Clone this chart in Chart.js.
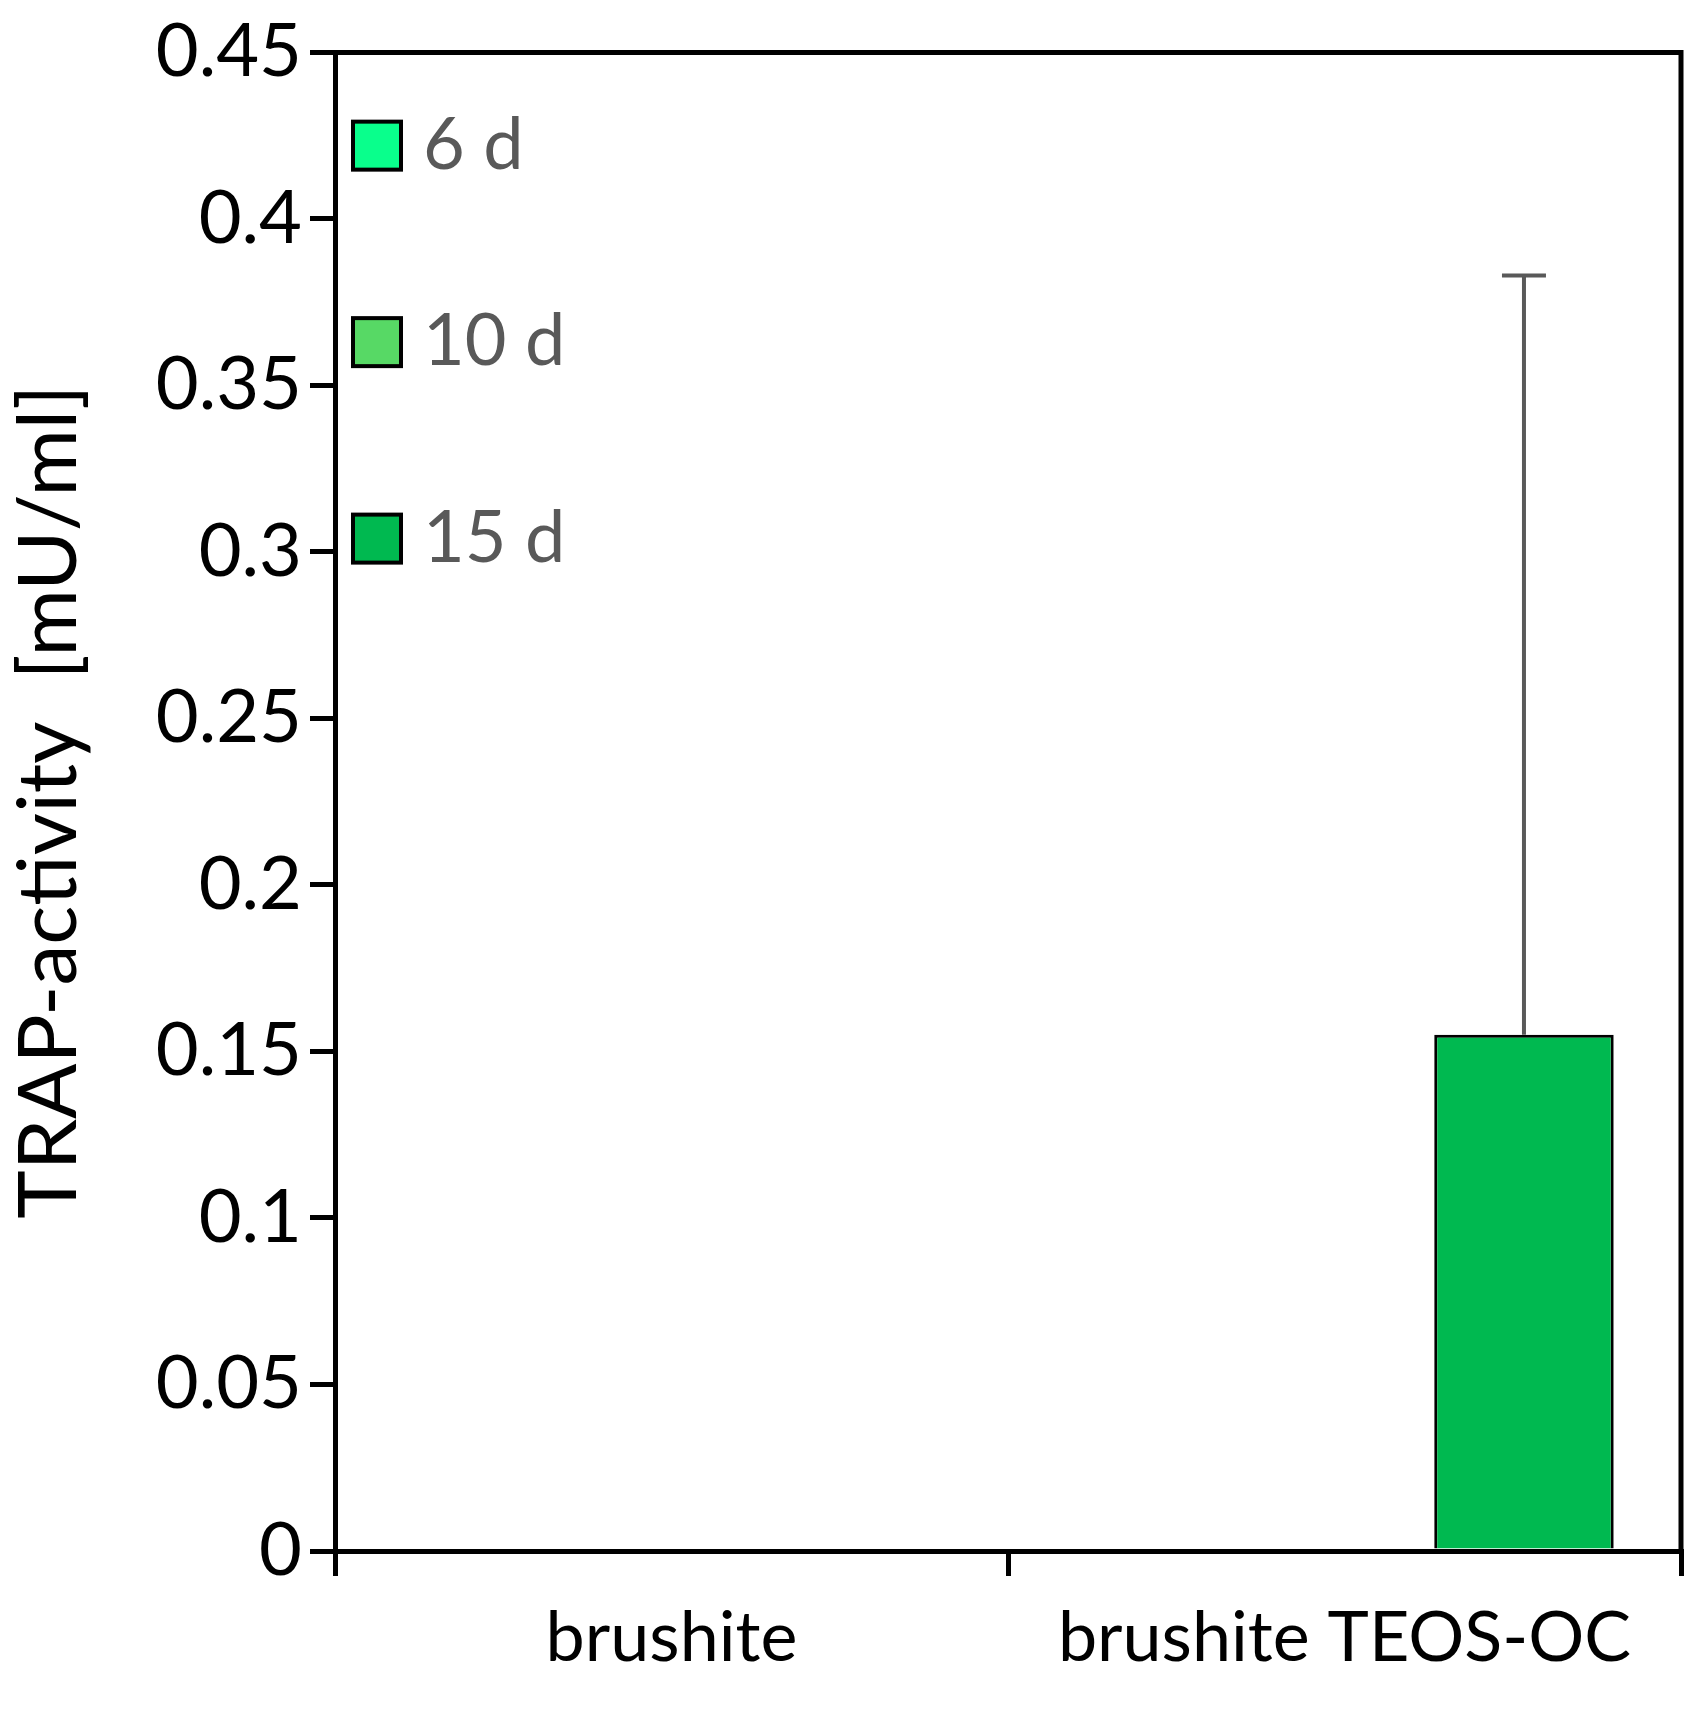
<!DOCTYPE html>
<html><head><meta charset="utf-8">
<script src="https://cdn.jsdelivr.net/npm/chart.js@4"></script>
<style>html,body{margin:0;background:#fff}#w{width:1703px;height:1709px}</style>
</head><body><div id="w"><canvas id="c"></canvas></div>
<script>
const categories = ["brushite", "brushite TEOS-OC"];
const seriesLabels = ["6 d", "10 d", "15 d"];
const values6d = [0, 0];
const values10d = [0, 0];
const values15d = [0, 0.155];
const errors15d = [0, 0.228];
const yTicks = [0, 0.05, 0.1, 0.15, 0.2, 0.25, 0.3, 0.35, 0.4, 0.45];
const colors = ["#09FF8C", "#57D965", "#00B950"];
const FONT = "Lato, 'Open Sans', sans-serif";

const errPlugin = {
  id: 'err',
  afterDatasetsDraw(chart) {
    const ctx = chart.ctx, y = chart.scales.y;
    const meta = chart.getDatasetMeta(2);
    ctx.save(); ctx.strokeStyle = '#595959'; ctx.lineWidth = 4;
    meta.data.forEach((bar, i) => {
      const e = errors15d[i]; if (!e) return;
      const top = y.getPixelForValue(values15d[i] + e);
      ctx.beginPath(); ctx.moveTo(bar.x, bar.y); ctx.lineTo(bar.x, top);
      ctx.moveTo(bar.x - 22, top); ctx.lineTo(bar.x + 22, top); ctx.stroke();
    });
    // frame
    const a = chart.chartArea;
    ctx.strokeStyle = '#000'; ctx.lineWidth = 5;
    ctx.beginPath(); ctx.moveTo(a.left - 25, a.top); ctx.lineTo(a.right, a.top); ctx.lineTo(a.right, a.bottom); ctx.stroke();
    // legend
    const ys = [0.422, 0.363, 0.304];
    ctx.font = "72px " + FONT; ctx.textBaseline = 'middle';
    seriesLabels.forEach((l, i) => {
      const py = y.getPixelForValue(ys[i]);
      ctx.fillStyle = colors[i]; ctx.fillRect(a.left + 18, py - 24, 48, 48);
      ctx.lineWidth = 4; ctx.strokeStyle = '#000'; ctx.strokeRect(a.left + 18, py - 24, 48, 48);
      ctx.fillStyle = '#595959'; ctx.fillText(l, a.left + 88, py);
    });
    ctx.restore();
  }
};

new Chart(document.getElementById('c'), {
  type: 'bar',
  data: {
    labels: categories,
    datasets: [
      {label: seriesLabels[0], data: values6d, backgroundColor: colors[0], borderColor: '#000', borderWidth: 3},
      {label: seriesLabels[1], data: values10d, backgroundColor: colors[1], borderColor: '#000', borderWidth: 3},
      {label: seriesLabels[2], data: values15d, backgroundColor: colors[2], borderColor: '#000', borderWidth: 3}
    ]
  },
  options: {
    responsive: true, maintainAspectRatio: false, animation: false,
    layout: {padding: {top: 50, right: 22, left: 0, bottom: 0}},
    plugins: {legend: {display: false}, tooltip: {enabled: false}},
    datasets: {bar: {categoryPercentage: 0.8, barPercentage: 1}},
    scales: {
      x: {
        grid: {display: true, offset: true, drawOnChartArea: false, color: '#000', lineWidth: 5, tickLength: 25},
        border: {color: '#000', width: 5},
        ticks: {color: '#000', font: {size: 70, family: FONT}, padding: 20},
        afterFit(s) { s.height = 158; }
      },
      y: {
        min: 0, max: 0.45,
        afterBuildTicks(s) { s.ticks = yTicks.map(v => ({value: v})); },
        grid: {display: true, drawOnChartArea: false, color: '#000', lineWidth: 5, tickLength: 25},
        border: {color: '#000', width: 5},
        ticks: {color: '#000', font: {size: 74, family: FONT}, padding: 8,
          callback: v => String(+v.toFixed(2))},
        title: {display: true, text: 'TRAP-activity  [mU/ml]', color: '#000', font: {size: 82, family: FONT}, padding: 0},
        afterFit(s) { s.width = 335; }
      }
    }
  },
  plugins: [errPlugin]
});
</script></body></html>
